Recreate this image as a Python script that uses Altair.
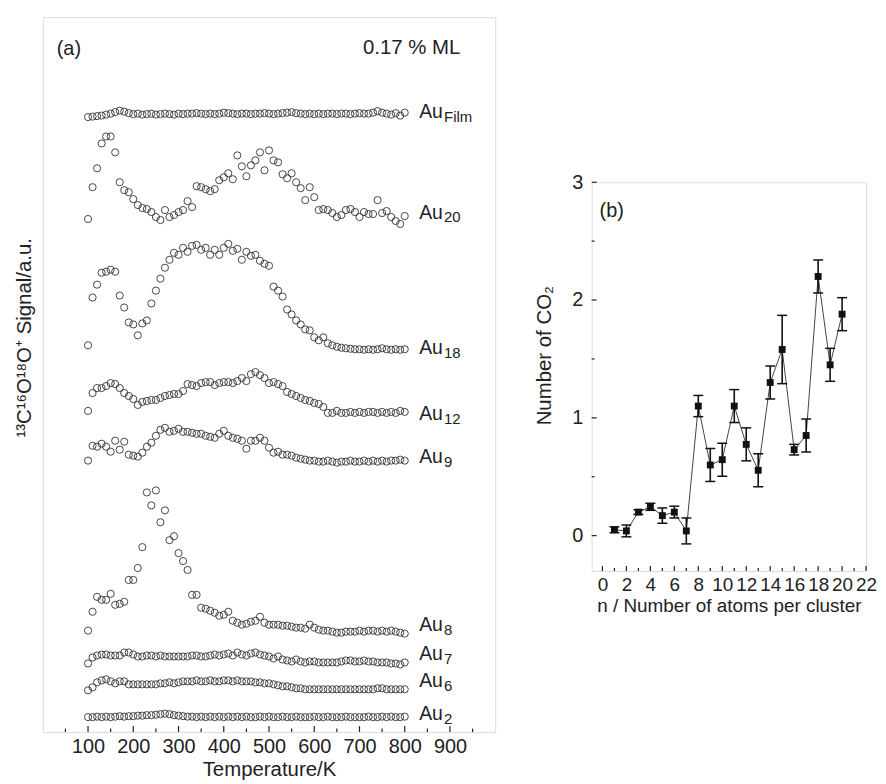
import altair as alt
import pandas as pd

# ---------------- Panel (a): TPD traces ----------------
temps = list(range(100, 801, 10))

trace_names = ["Film", "20", "18", "12", "9", "8", "7", "6", "2"]
trace_offsets = [619, 516, 384, 321, 272, 101, 70, 43, 15]
label_levels = [623.5, 522.5, 386.5, 320, 277, 108, 78, 51.5, 18.5]

sig_film = [-0.5, 0, 0.5, 1, 2, 3, 4.5, 6, 5, 3.5,
            2.5, 3, 2, 2.5, 3, 2, 2.5, 3, 2.5, 2,
            3, 2.5, 3, 3, 3.5, 3, 2.5, 3, 2.5, 3,
            4, 3.5, 3, 2.5, 3, 3, 2.5, 3, 3, 3.5,
            3, 2.5, 3, 3.5, 4, 4.5, 3.5, 3, 2.5, 3,
            2.5, 3, 2.5, 3, 3, 2.5, 3, 3, 2.5, 3,
            3.5, 3, 3, 4, 5.5, 4, 3, 2, 3.5, 1,
            4]
sig_au20 = [0, 32, 51, 76, 83, 83, 67, 37, 29, 27,
            20, 14, 11, 10, 7, 2, -1, 9, 2, 4,
            7, 9, 18, 12, 33, 32, 30, 28, 30, 39,
            42, 46, 40, 64, 53, 43, 54, 59, 67, 49,
            69, 59, 57, 45, 41, 46, 37, 31, 19, 32,
            22, 9, 10, 9, 6, 2, 4, 9, 10, 7,
            2, 7, 5, 5, 19, 6, 8, 2, -2, -5,
            3]
sig_au18 = [5, 53, 66, 78, 79, 81, 79, 55, 43, 28,
            26, 15, 27, 30, 47, 60, 72, 83, 91, 98,
            96, 103, 99, 105, 106, 101, 103, 96, 101, 96,
            103, 107, 100, 102, 91, 99, 95, 96, 90, 87,
            85, 64, 60, 54, 41, 36, 30, 26, 21, 20,
            13, 10, 13, 7, 5, 3.5, 2.5, 2, 1.5, 1,
            1, 0.5, 1, 0.5, 1, 2, 1, 0.5, 1, 0.5,
            1]
sig_au12 = [2, 20, 25, 25, 27, 30, 29, 25, 20, 17,
            14, 8, 11, 12, 13, 13, 15, 17, 18, 19,
            19, 22, 29, 28, 27, 30, 31, 31, 28, 30,
            31, 31, 30, 32, 35, 32, 39, 41, 38, 35,
            30, 31, 29, 27, 21, 19, 17, 15, 13, 12,
            10, 9, 6, 0, 0, 2, 0, 0, 1, 0,
            1, 0, 1, 1, 0, 1, 0, 1, 0, 2,
            1]
sig_au9 = [1, 16, 15, 18, 15, 10, 21, 12, 20, 7,
           6, 5, 9, 15, 19, 26, 32, 34, 30, 31,
           33, 30, 30, 29, 28, 28, 26, 25, 24, 28,
           31, 26, 24, 23, 21, 13, 21, 21, 24, 21,
           14, 9, 10, 7, 7, 6, 4, 3, 2, 1,
           1, 0, 0, 1, 0, -1, 0, 0, 1, 0,
           0, 1, 0, 1, 0, 1, 0, 1, 1, 2,
           1]
sig_au8 = [1, 20, 35, 32, 32, 38, 27, 28, 30, 52,
           52, 64, 85, 140, 127, 142, 110, 122, 92, 96,
           79, 71, 62, 37, 37, 24, 23, 21, 19, 16,
           17, 20, 11, 9, 7, 8, 10, 11, 15, 9,
           7, 7, 7, 6, 6, 5, 4, 4, 3, 7,
           4, 2, 1, 1, 0, -1, -1, 0, 0, 0,
           1, 0, 1, 1, 0, 1, 0, 1, 0, -1,
           -2]
sig_au7 = [-1, 5, 7, 8, 8, 7, 7, 7, 10, 10,
           8, 6, 6, 7, 7, 6, 7, 6, 6, 6,
           6, 6, 6, 7, 7, 6, 6, 7, 8, 7,
           8, 9, 7, 10, 8, 7, 9, 10, 8, 7,
           6, 4, 6, 3, 2, 1, 3, 1, 0, 1,
           1, 0, 0, 0, 0, 0, 1, 2, 2, 1,
           1, 2, 1, 1, 0, 0, 0, -1, -1, -2,
           0]
sig_au6 = [-1, 2, 7, 9, 10, 8, 6, 8, 8, 5,
           5, 5, 5, 5, 5, 5, 6, 6, 7, 6,
           7, 8, 8, 8, 9, 8, 8, 9, 8, 8,
           9, 9, 8, 9, 8, 8, 8, 7, 7, 6,
           6, 5, 4, 3, 3, 2, 1, 1, 0, 0,
           0, 0, 0, 0, 0, 0, 0, 0, 0, 0,
           0, 0, 0, 0, 1, 1, 0, 0, 0, 0,
           0]
sig_au2 = [0, 0, 0.5, 0, 0.5, 0, 0.5, 1, 0.5, 1,
           1, 1.5, 1.5, 2, 2, 2.5, 3, 3.5, 3, 2,
           1.5, 1, 0.5, 0.5, 0, 0.5, 0, 0.5, 0, 0.5,
           0, 0.5, 0, 0.5, 0, 0.5, 0, 0, 0.5, 0,
           0.5, 0, 0, 0.5, 0, 0, 0.5, 0, 0, 0,
           0.5, 0, 0, 0.5, 0, 0, 0, 0.5, 0, 0,
           0, 0, 0.5, 0, 0, 0.5, 0, 0.5, 0, 0,
           0.5]

signals = [sig_film, sig_au20, sig_au18, sig_au12, sig_au9,
           sig_au8, sig_au7, sig_au6, sig_au2]

x_major_a = [100, 200, 300, 400, 500, 600, 700, 800, 900]
x_minor_a = [50, 150, 250, 350, 450, 550, 650, 750, 850, 950]

# ---------------- Panel (b): number of CO2 ----------------
n_atoms = list(range(1, 21))
co2 = [0.05, 0.04, 0.20, 0.245, 0.17, 0.20, 0.04, 1.10, 0.60, 0.645,
       1.10, 0.775, 0.555, 1.30, 1.58, 0.73, 0.85, 2.20, 1.45, 1.88]
co2_err = [0.025, 0.05, 0.02, 0.03, 0.065, 0.05, 0.11, 0.09, 0.14, 0.14,
           0.14, 0.14, 0.14, 0.14, 0.29, 0.045, 0.14, 0.14, 0.14, 0.14]
x_major_b = [0, 2, 4, 6, 8, 10, 12, 14, 16, 18, 20, 22]
x_minor_b = [1, 3, 5, 7, 9, 11, 13, 15, 17, 19, 21]
y_major_b = [0, 1, 2, 3]
y_minor_b = [0.5, 1.5, 2.5]

FONT = "Liberation Sans"
INK = "#222222"
LBL = 20
TTL = 20.5

# ---------- build panel (a) ----------
rows = []
for name, off, sig in zip(trace_names, trace_offsets, signals):
    assert len(sig) == len(temps), name
    for t, s in zip(temps, sig):
        rows.append({"T": t, "y": off + s, "trace": name})
df_a = pd.DataFrame(rows)

W_A, H_A = 455, 719
xs_a = alt.Scale(domain=[0, 1000], nice=False, zero=False)
ys_a = alt.Scale(domain=[0, H_A], nice=False, zero=False)

x_a = alt.X("T:Q", scale=xs_a,
            axis=alt.Axis(values=x_major_a, ticks=False, domain=False, grid=False,
                          labelFontSize=LBL, labelPadding=5, format="d",
                          labelOverlap=False, labelFont=FONT, labelColor=INK,
                          title="Temperature/K", titleFontSize=TTL, titlePadding=3,
                          titleFontWeight="normal", titleFont=FONT, titleColor=INK))
y_a = alt.Y("y:Q", scale=ys_a,
            axis=alt.Axis(labels=False, ticks=False, domain=False, grid=False,
                          title="¹³C¹⁶O¹⁸O⁺ Signal/a.u.", titleFontSize=TTL,
                          titleFontWeight="normal", titleFont=FONT, titleColor=INK,
                          titleAngle=270, titleX=-18, titleY=322,
                          titleBaseline="middle", titleAlign="center"))

pts = alt.Chart(df_a).mark_point(shape="circle", filled=False, size=52,
                                 stroke="#333333", strokeWidth=0.9, opacity=1).encode(
    x=x_a, y=y_a, detail="trace:N")

tick_major_a = alt.Chart(pd.DataFrame({"T": x_major_a})).mark_rule(
    color=INK, strokeWidth=1.2).encode(
    x=x_a, y=alt.value(H_A), y2=alt.value(H_A - 6))
tick_minor_a = alt.Chart(pd.DataFrame({"T": x_minor_a})).mark_rule(
    color=INK, strokeWidth=1.2).encode(
    x=x_a, y=alt.value(H_A), y2=alt.value(H_A - 3.5))

df_lab = pd.DataFrame({"T": [832] * len(trace_names), "y": label_levels,
                       "main": ["Au"] * len(trace_names), "sub": trace_names})
lab_main = alt.Chart(df_lab).mark_text(align="left", baseline="middle",
                                       fontSize=19.5, font=FONT, color=INK).encode(
    x=x_a, y=y_a, text="main:N")
lab_sub = alt.Chart(df_lab).mark_text(align="left", baseline="middle", dx=25, dy=5,
                                      fontSize=15, font=FONT, color=INK).encode(
    x=x_a, y=y_a, text="sub:N")

txt_a = alt.Chart(pd.DataFrame({"s": ["(a)"]})).mark_text(
    align="left", baseline="middle", fontSize=20, font=FONT, color=INK).encode(
    text="s:N", x=alt.value(14), y=alt.value(32))
txt_ml = alt.Chart(pd.DataFrame({"s": ["0.17 % ML"]})).mark_text(
    align="left", baseline="middle", fontSize=20.5, font=FONT, color=INK).encode(
    text="s:N", x=alt.value(322), y=alt.value(31))

panel_a = alt.layer(pts, tick_major_a, tick_minor_a, lab_main, lab_sub, txt_a, txt_ml).properties(
    width=W_A, height=H_A)

# ---------- build panel (b) ----------
df_b = pd.DataFrame({"n": n_atoms, "co2": co2,
                     "lo": [c - e for c, e in zip(co2, co2_err)],
                     "hi": [c + e for c, e in zip(co2, co2_err)]})

W_B, H_B = 276, 391
xs_b = alt.Scale(domain=[-0.9, 22], nice=False, zero=False)
ys_b = alt.Scale(domain=[-0.3, 3], nice=False, zero=False)

x_axis_b = alt.Axis(values=x_major_b, ticks=False, domain=False, grid=False,
                    labelFontSize=19, labelPadding=5, labelFlush=False,
                    labelOverlap=False, labelSeparation=0, labelFont=FONT, labelColor=INK,
                    title="n / Number of atoms per cluster", titleFontSize=19,
                    titlePadding=2, titleFontWeight="normal", titleFont=FONT,
                    titleColor=INK)
y_axis_b = alt.Axis(values=y_major_b, ticks=False, domain=False, grid=False,
                    labelFontSize=LBL, labelPadding=9, format="d",
                    labelOverlap=False, labelFont=FONT, labelColor=INK,
                    title="Number of CO₂", titleFontSize=TTL,
                    titleFontWeight="normal", titleFont=FONT, titleColor=INK,
                    titleAngle=270, titleX=-47, titleY=174,
                    titleBaseline="middle", titleAlign="center")


def xb(field="n"):
    return alt.X(f"{field}:Q", scale=xs_b, axis=x_axis_b, title="n / Number of atoms per cluster")


def yb(field="co2"):
    return alt.Y(f"{field}:Q", scale=ys_b, axis=y_axis_b, title="Number of CO₂")


line_b = alt.Chart(df_b).mark_line(color="#444444", strokeWidth=1).encode(x=xb(), y=yb())
err_b = alt.Chart(df_b).mark_rule(color="#111111", strokeWidth=1.6).encode(
    x=xb(), y=yb("lo"), y2="hi:Q")
cap_lo = alt.Chart(df_b).mark_tick(orient="horizontal", size=10, thickness=1.5,
                                   color="#111111", opacity=1).encode(x=xb(), y=yb("lo"))
cap_hi = alt.Chart(df_b).mark_tick(orient="horizontal", size=10, thickness=1.5,
                                   color="#111111", opacity=1).encode(x=xb(), y=yb("hi"))
sq_b = alt.Chart(df_b).mark_point(shape="square", filled=True, size=48,
                                  color="#111111", opacity=1).encode(x=xb(), y=yb())

tick_xmaj_b = alt.Chart(pd.DataFrame({"n": x_major_b})).mark_rule(
    color=INK, strokeWidth=1.2).encode(x=xb(), y=alt.value(H_B), y2=alt.value(H_B - 5))
tick_xmin_b = alt.Chart(pd.DataFrame({"n": x_minor_b})).mark_rule(
    color=INK, strokeWidth=1.2).encode(x=xb(), y=alt.value(H_B), y2=alt.value(H_B - 3))
tick_ymaj_b = alt.Chart(pd.DataFrame({"co2": y_major_b})).mark_rule(
    color=INK, strokeWidth=1.2).encode(y=yb(), x=alt.value(0), x2=alt.value(5))
tick_ymin_b = alt.Chart(pd.DataFrame({"co2": y_minor_b})).mark_rule(
    color=INK, strokeWidth=1.2).encode(y=yb(), x=alt.value(0), x2=alt.value(3))

txt_b = alt.Chart(pd.DataFrame({"s": ["(b)"]})).mark_text(
    align="left", baseline="middle", fontSize=20, font=FONT, color=INK).encode(
    text="s:N", x=alt.value(8), y=alt.value(29))

panel_b = alt.layer(line_b, err_b, cap_lo, cap_hi, sq_b,
                    tick_xmaj_b, tick_xmin_b, tick_ymaj_b, tick_ymin_b, txt_b).properties(
    width=W_B, height=H_B)

spacer = alt.layer(
    alt.Chart(pd.DataFrame({"v": [0]})).mark_point(opacity=0).encode(
        x=alt.X("v:Q", axis=None), y=alt.Y("v:Q", axis=None))
).properties(width=W_B, height=155, view=alt.ViewBackground(strokeOpacity=0))

right_col = alt.vconcat(spacer, panel_b, spacing=0)

chart = alt.hconcat(panel_a, right_col, spacing=38).properties(
    padding={"left": 6, "top": 6, "right": 0, "bottom": 0}
).configure_view(
    stroke=INK, strokeWidth=1.5
).configure_axis(
    labelFont=FONT, titleFont=FONT, labelColor=INK, titleColor=INK,
    titleFontWeight="normal", labelOverlap=False
).configure(background="white")

chart.save("out.html", embed_options={"renderer": "svg", "actions": False})
